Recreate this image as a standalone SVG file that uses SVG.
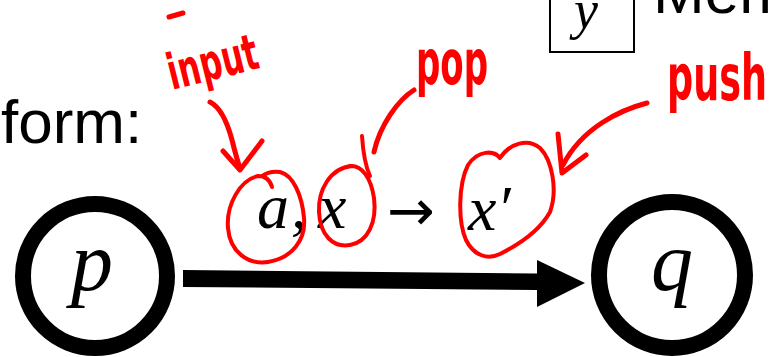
<svg xmlns="http://www.w3.org/2000/svg" width="769" height="357" viewBox="0 0 769 357">
<style>
.state{fill:#fff;stroke:#000;stroke-width:16}
.math{font-family:"Liberation Serif","DejaVu Serif",serif;font-style:italic;fill:#000}
.body{font-family:"Liberation Sans",Arial,sans-serif;fill:#000}
.ink{fill:none;stroke:#ff0000;stroke-linecap:round;stroke-linejoin:round}
.hand{font-family:"DejaVu Sans Condensed","DejaVu Sans",sans-serif;font-weight:bold;fill:#ff0000}
</style>
<rect width="769" height="357" fill="#fff"/>

<g id="heading">
<text class="body" x="1" y="143" font-size="62">form:</text>
</g>

<g id="legend">
<rect x="550" y="-10" width="84" height="62" fill="none" stroke="#000" stroke-width="2"/>
<text class="math" x="586" y="28" font-size="54" text-anchor="middle">y</text>
<text class="body" x="653" y="13" font-size="62">Memo</text>
</g>

<g id="connectors">
<polygon points="183,270 537,273.5 537,260 585,283 537,307 537,290 183,287" fill="#000"/>
</g>

<g id="node-p">
<circle class="state" cx="95" cy="276" r="72"/>
<text class="math" x="92" y="290" font-size="84" text-anchor="middle">p</text>
</g>

<g id="node-q">
<circle class="state" cx="672" cy="275" r="73"/>
<text class="math" x="672" y="290" font-size="84" text-anchor="middle">q</text>
</g>

<g id="edge-label">
<text class="math" font-size="64" y="228"><tspan x="257">a</tspan><tspan x="291">,</tspan><tspan x="318">x</tspan></text>
<text x="387" y="230" font-size="57" font-family="DejaVu Sans, sans-serif" fill="#000">→</text>
<text class="math" x="468" y="230" font-size="64">x′</text>
</g>

<g id="annotations">
<line class="ink" x1="169" y1="17" x2="183" y2="13" stroke-width="5"/>
<text class="hand" x="172" y="90" font-size="50" transform="rotate(-14 172 90)" textLength="92" lengthAdjust="spacingAndGlyphs">input</text>
<path class="ink" stroke-width="5" d="M210,102 C222,108 228,125 232,140 C235,152 237,160 240,168"/>
<path class="ink" stroke-width="5" d="M223,151 L240,170 L262,141"/>
<path class="ink" stroke-width="4" d="M272,187 C270,180 266,176 258,176 C240,180 226,205 228,228 C230,252 248,265 268,262 C292,258 306,240 304,218 C302,195 293,175 280,172 C272,171 266,173 262,176"/>
<path class="ink" stroke-width="4" d="M352,166 C330,168 318,190 319,212 C320,235 333,248 350,245 C368,242 377,222 374,198 C371,178 362,165 350,166"/>

<text class="hand" x="416" y="84" font-size="62" textLength="72" lengthAdjust="spacingAndGlyphs">pop</text>
<path class="ink" stroke-width="5" d="M414,90 C398,100 380,125 374,152"/>
<path class="ink" stroke-width="4" d="M362,136 C363,152 365,165 370,176"/>

<path class="ink" stroke-width="4" d="M500,158 C494,150 478,150 468,165 C458,185 458,222 466,240 C474,256 488,260 500,254 C520,244 540,230 550,212 C558,190 552,160 540,148 C528,138 510,143 500,158"/>
<text class="hand" x="667" y="100" font-size="64" textLength="100" lengthAdjust="spacingAndGlyphs">push</text>
<path class="ink" stroke-width="5" d="M647,103 C620,110 582,128 563,165"/>
<path class="ink" stroke-width="5" d="M558,134 L562,173 L586,155"/>
</g>
</svg>
